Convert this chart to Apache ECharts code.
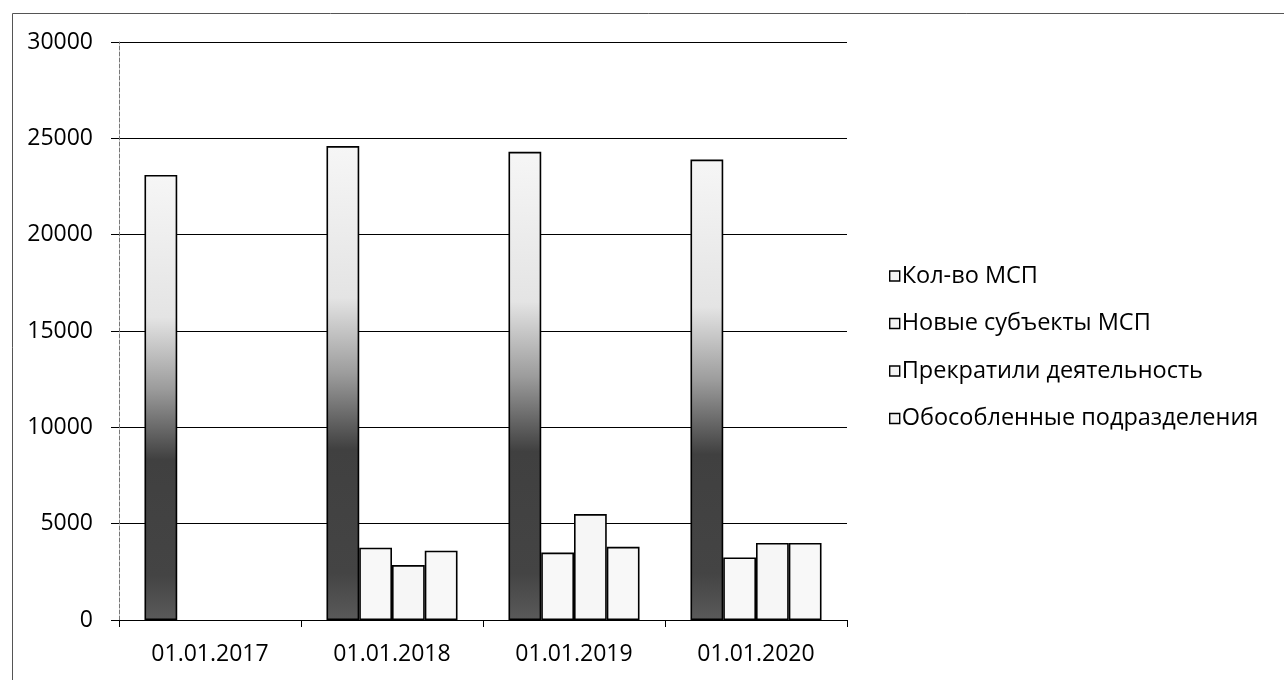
<!DOCTYPE html>
<html>
<head>
<meta charset="utf-8">
<title>МСП</title>
<script src="https://cdn.jsdelivr.net/npm/echarts@6/dist/echarts.min.js"></script>
<style>
  html, body { margin: 0; padding: 0; background: #fff; }
  #chart { width: 1284px; height: 680px; }
</style>
</head>
<body>
<div id="chart"></div>
<script>
// данные
var categories = ["01.01.2017", "01.01.2018", "01.01.2019", "01.01.2020"];
var seriesNames = ["Кол-во МСП", "Новые субъекты МСП", "Прекратили деятельность", "Обособленные подразделения"];
var kolvoMsp = [23100, 24600, 24300, 23900];
var novyeMsp = [null, 3750, 3500, 3250];
var prekratili = [null, 2850, 5500, 4000];
var obosoblennye = [null, 3600, 3800, 4000];
var yTicks = { min: 0, max: 30000, interval: 5000 };

var FONT = "Open Sans";

var myChart = echarts.init(document.getElementById("chart"));

// тёмная "зернистая" заливка первого ряда
var darkFill = new echarts.graphic.LinearGradient(0, 0, 0, 1, [
  { offset: 0, color: "#f6f6f6" },
  { offset: 0.32, color: "#e4e4e4" },
  { offset: 0.48, color: "#9c9c9c" },
  { offset: 0.64, color: "#404040" },
  { offset: 0.9, color: "#444" },
  { offset: 1, color: "#5a5a5a" },
]);

function barSeries(name, data, fill) {
  return {
    name: name,
    type: "bar",
    barGap: "0%",
    barCategoryGap: "28%",
    itemStyle: {
      color: fill,
      borderColor: "#000",
      borderWidth: 1.6,
    },
    emphasis: { disabled: true },
    data: data,
  };
}

var legendIcon = {
  color: "#f4f4f4",
  borderColor: "#000",
  borderWidth: 1.4,
};

var option = {
  animation: false,
  backgroundColor: "#fff",
  textStyle: { fontFamily: FONT, color: "#000" },
  grid: {
    left: 119,
    right: 437,
    top: 42,
    bottom: 60,
    containLabel: false,
  },
  legend: {
    orient: "vertical",
    left: 884,
    top: 259,
    itemWidth: 10,
    itemHeight: 10,
    itemGap: 23.5,
    icon: "rect",
    textStyle: { fontFamily: FONT, fontSize: 23.5, color: "#000", padding: [0, 0, 0, -3] },
    data: seriesNames.map(function (n) {
      return { name: n, itemStyle: legendIcon };
    }),
  },
  xAxis: {
    type: "category",
    data: categories,
    axisLine: { show: true, lineStyle: { color: "#000", width: 1.2 } },
    axisTick: { show: true, length: 7, lineStyle: { color: "#000" } },
    axisLabel: {
      fontFamily: FONT,
      fontSize: 23,
      color: "#000",
      margin: 23,
    },
  },
  yAxis: {
    type: "value",
    min: yTicks.min,
    max: yTicks.max,
    interval: yTicks.interval,
    axisLine: { show: true, lineStyle: { color: "#777", width: 1, type: "dashed" } },
    axisTick: { show: true, length: 8, lineStyle: { color: "#000" } },
    splitLine: { show: true, lineStyle: { color: "#000", width: 1.2 } },
    axisLabel: {
      fontFamily: FONT,
      fontSize: 23,
      color: "#000",
      margin: 26,
      formatter: function (v) { return String(v); },
    },
  },
  graphic: [
    {
      type: "rect",
      left: 10,
      top: 11,
      shape: { width: 1400, height: 800 },
      style: { fill: null, stroke: "#555", lineWidth: 1 },
      silent: true,
    },
  ],
  series: [
    barSeries(seriesNames[0], kolvoMsp, darkFill),
    barSeries(seriesNames[1], novyeMsp, "#f8f8f8"),
    barSeries(seriesNames[2], prekratili, "#f6f6f6"),
    barSeries(seriesNames[3], obosoblennye, "#f8f8f8"),
  ],
};

myChart.setOption(option);
</script>
</body>
</html>
